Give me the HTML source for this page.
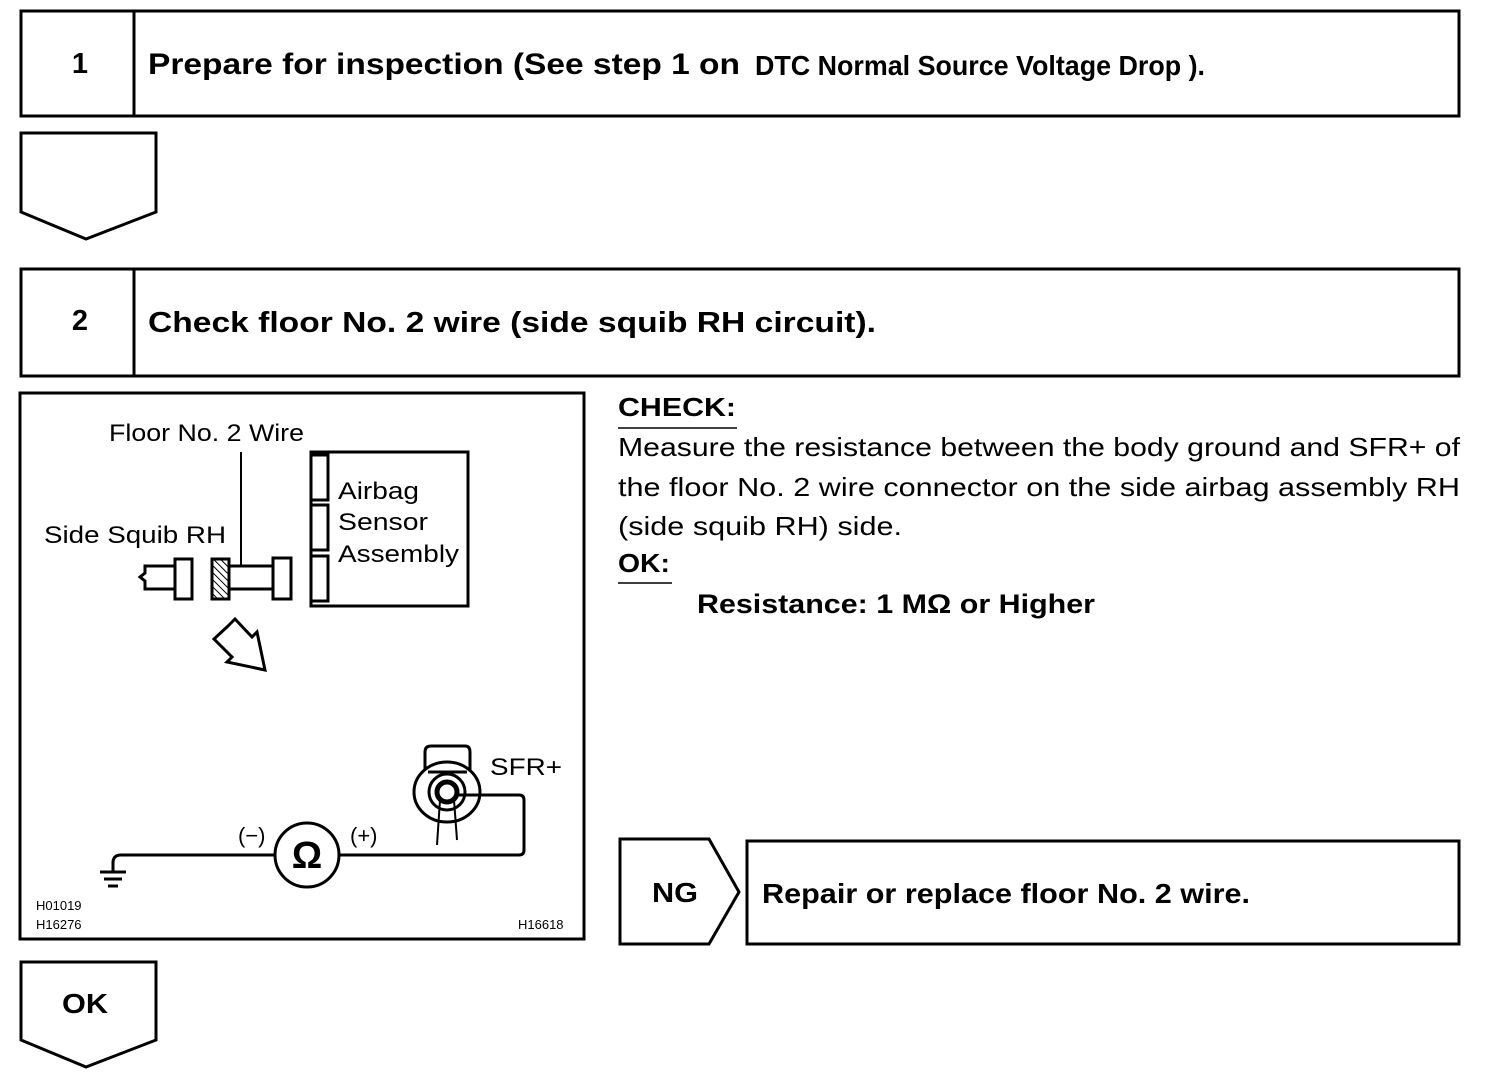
<!DOCTYPE html>
<html><head><meta charset="utf-8"><style>
html,body{margin:0;padding:0;background:#fff;}
svg{display:block;font-family:"Liberation Sans",Arial,sans-serif;}
</style></head><body>
<svg width="1504" height="1086" viewBox="0 0 1504 1086" xmlns="http://www.w3.org/2000/svg">
<g fill="none" stroke="#000" stroke-width="3">
<rect x="21" y="11" width="1438" height="105"/>
<line x1="134" y1="11" x2="134" y2="116"/>
<polygon points="21,133 156,133 156,212 86,239 21,212"/>
<rect x="21" y="269" width="1438" height="107"/>
<line x1="134" y1="269" x2="134" y2="376"/>
<rect x="20" y="393" width="564" height="546"/>
<polygon points="620,839 709,839 739,892 709,944 620,944"/>
<rect x="747" y="841" width="712" height="103"/>
<polygon points="21,962 156,962 156,1040 86,1067 21,1040"/>
</g>
<g font-weight="bold" fill="#000">
<text x="80" y="73" font-size="29" text-anchor="middle">1</text>
<text x="148" y="74" font-size="30" textLength="592" lengthAdjust="spacingAndGlyphs">Prepare for inspection (See step 1 on</text>
<text x="755" y="75" font-size="28" textLength="450" lengthAdjust="spacingAndGlyphs">DTC Normal Source Voltage Drop ).</text>
<text x="80" y="330" font-size="29" text-anchor="middle">2</text>
<text x="148" y="332" font-size="29" textLength="728" lengthAdjust="spacingAndGlyphs">Check floor No. 2 wire (side squib RH circuit).</text>
<text x="618" y="416" font-size="26" textLength="118" lengthAdjust="spacingAndGlyphs">CHECK:</text>
<text x="618" y="572" font-size="26" textLength="52" lengthAdjust="spacingAndGlyphs">OK:</text>
<text x="697" y="613" font-size="27" textLength="398" lengthAdjust="spacingAndGlyphs">Resistance: 1 MΩ or Higher</text>
<text x="652" y="902" font-size="28" textLength="46" lengthAdjust="spacingAndGlyphs">NG</text>
<text x="762" y="903" font-size="28" textLength="488" lengthAdjust="spacingAndGlyphs">Repair or replace floor No. 2 wire.</text>
<text x="62" y="1013" font-size="28" textLength="46" lengthAdjust="spacingAndGlyphs">OK</text>
</g>
<g stroke="#000" stroke-width="1.5">
<line x1="618" y1="428" x2="737" y2="428"/>
<line x1="618" y1="583" x2="672" y2="583"/>
</g>
<g fill="#000" font-size="26">
<text x="618" y="456" textLength="842" lengthAdjust="spacingAndGlyphs">Measure the resistance between the body ground and SFR+ of</text>
<text x="618" y="496" textLength="842" lengthAdjust="spacingAndGlyphs">the floor No. 2 wire connector on the side airbag assembly RH</text>
<text x="618" y="535" textLength="284" lengthAdjust="spacingAndGlyphs">(side squib RH) side.</text>
</g>
<!-- diagram -->
<g fill="#000" font-size="24">
<text x="109" y="441" textLength="195" lengthAdjust="spacingAndGlyphs">Floor No. 2 Wire</text>
<text x="44" y="543" textLength="182" lengthAdjust="spacingAndGlyphs">Side Squib RH</text>
<text x="338" y="499" textLength="81" lengthAdjust="spacingAndGlyphs">Airbag</text>
<text x="338" y="530" textLength="90" lengthAdjust="spacingAndGlyphs">Sensor</text>
<text x="338" y="562" textLength="121" lengthAdjust="spacingAndGlyphs">Assembly</text>
<text x="490" y="775" textLength="72" lengthAdjust="spacingAndGlyphs">SFR+</text>
<text x="238" y="843" font-size="22">(−)</text>
<text x="350" y="843" font-size="22">(+)</text>
<text x="36" y="910" font-size="13">H01019</text>
<text x="36" y="929" font-size="13">H16276</text>
<text x="518" y="929" font-size="13">H16618</text>
<text x="307" y="868" font-size="38" font-weight="bold" text-anchor="middle">Ω</text>
</g>
<defs><pattern id="h" width="5" height="5" patternUnits="userSpaceOnUse" patternTransform="rotate(-45)"><line x1="0" y1="0" x2="0" y2="5" stroke="#000" stroke-width="2"/></pattern></defs>
<g fill="none" stroke="#000" stroke-width="3">
<rect x="311" y="452" width="157" height="154"/>
<rect x="311" y="455" width="17" height="45"/>
<rect x="311" y="505" width="17" height="45"/>
<rect x="311" y="556" width="17" height="45"/>
<line x1="241" y1="452" x2="241" y2="565" stroke-width="2"/>
<rect x="212" y="559" width="17" height="40" fill="url(#h)"/>
<rect x="229" y="566" width="44" height="23"/>
<rect x="273" y="558" width="18" height="41"/>
<rect x="175" y="559" width="17" height="40"/>
<polygon points="175,566 145,566 145,573 140,577 145,581 145,589 175,589"/>
<polygon points="222,626 229,619 246,637 251,632 259,670 221,662 226,657 208,639" transform="translate(6,0)"/>
<path d="M455,795 L519,795 Q524,795 524,800 L524,850 Q524,855 519,855 L339,855"/>
<path d="M275,855 L121,855 Q113,855 113,863 L113,871"/>
<circle cx="307" cy="855" r="32"/>
<line x1="100" y1="872" x2="126" y2="872"/>
<line x1="104" y1="879" x2="122" y2="879"/>
<line x1="108" y1="886" x2="118" y2="886"/>
<path d="M425,770 L425,752 Q425,746 431,746 L465,746 Q470,746 470,752 L470,770"/>
<ellipse cx="447" cy="792" rx="33" ry="30"/>
<circle cx="447" cy="792" r="18"/>
<circle cx="447" cy="792" r="10" stroke-width="5"/>
<path d="M440,800 L437,845 M454,800 L457,840" stroke-width="2"/>
<line x1="428" y1="772" x2="467" y2="772"/>
</g>
</svg>
</body></html>
